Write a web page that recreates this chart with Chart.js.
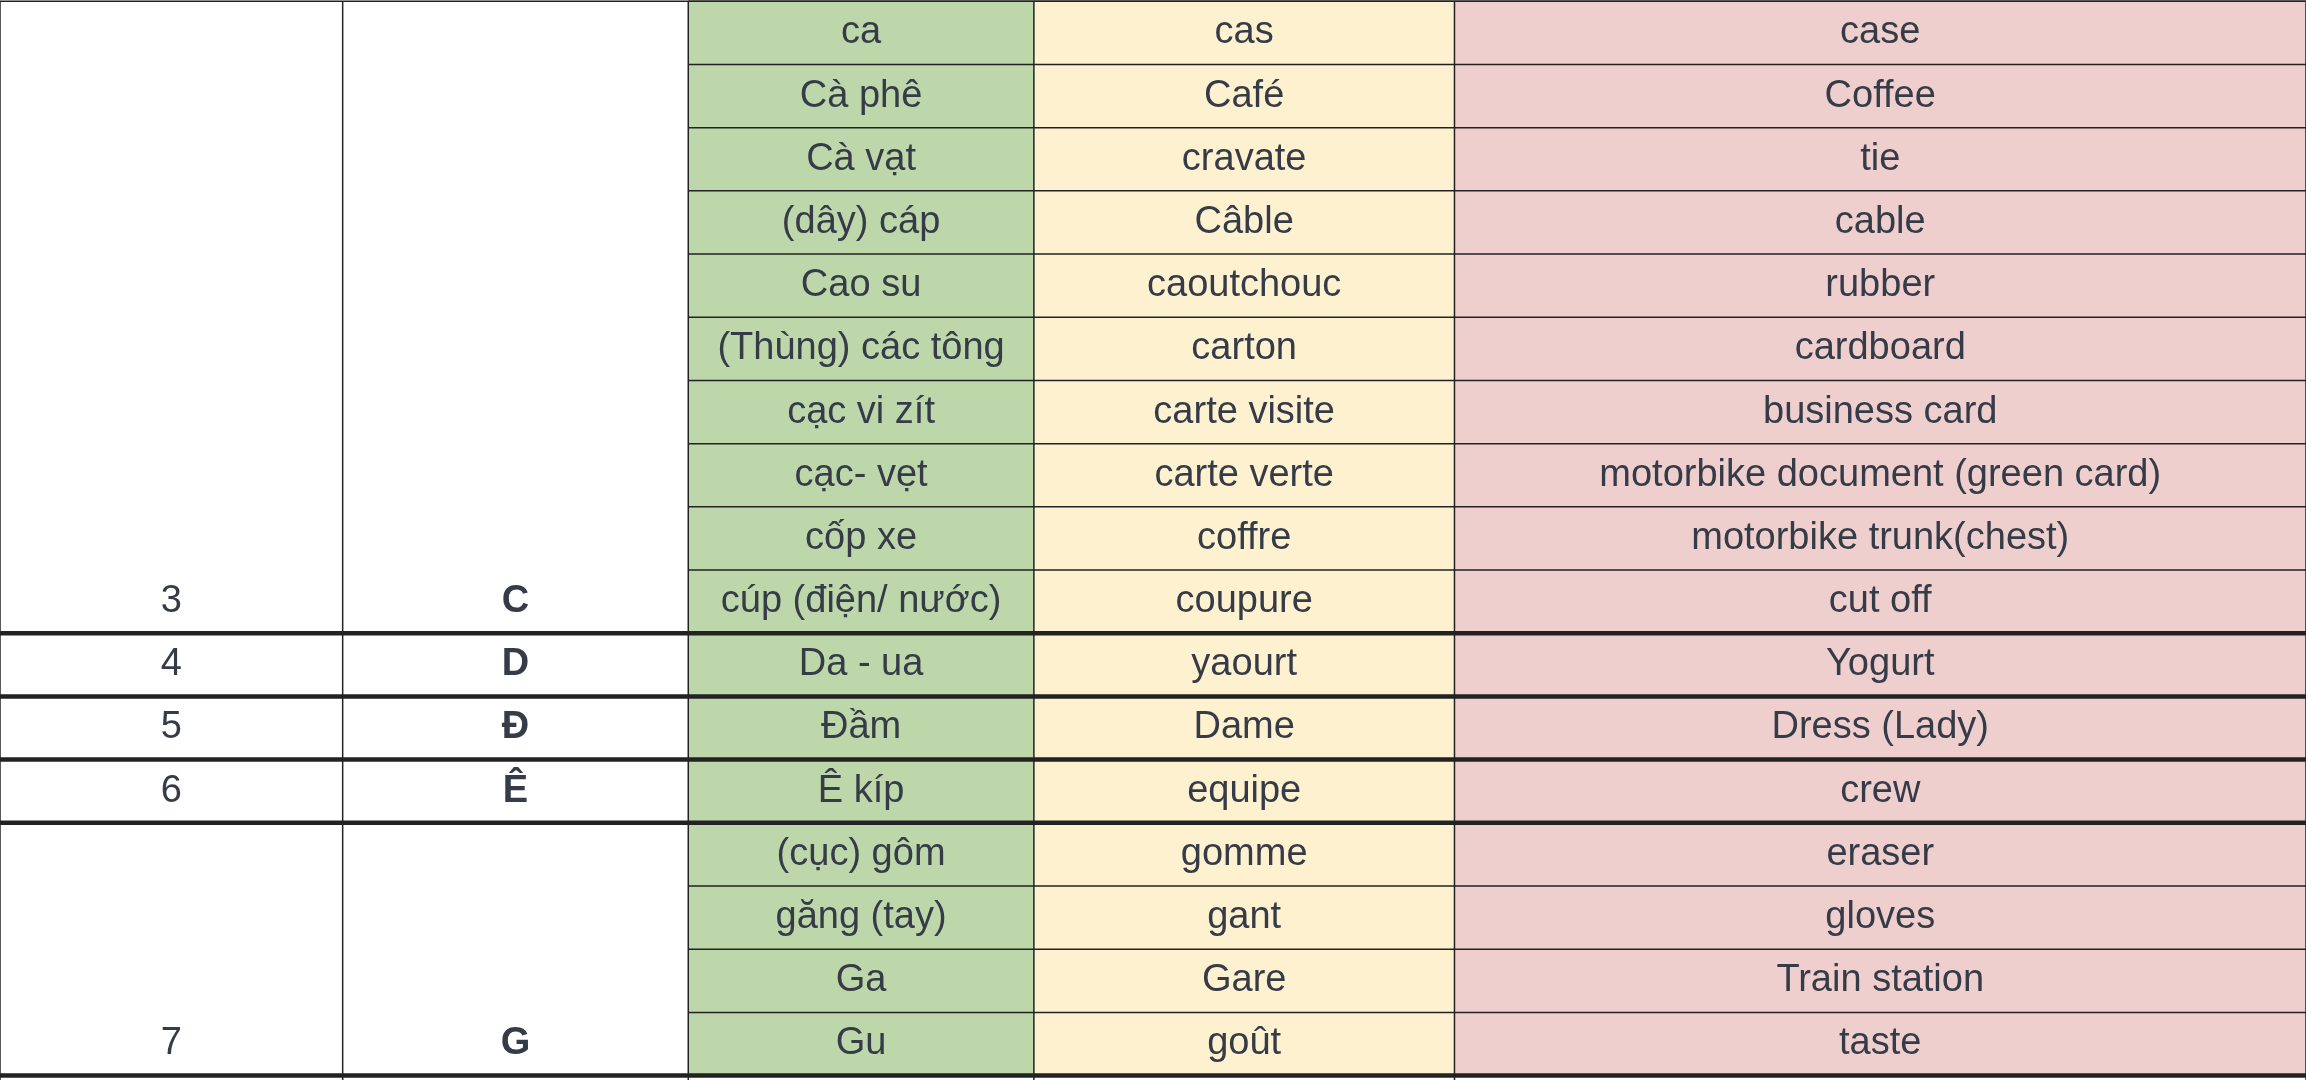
<!DOCTYPE html>
<html>
<head>
<meta charset="utf-8">
<script src="https://cdn.jsdelivr.net/npm/chart.js@4"></script>
<style>
  html, body { margin:0; padding:0; background:#fff; }
  #wrap { width:2306px; height:1080px; }
</style>
</head>
<body>
<div id="wrap"><canvas id="myChart"></canvas></div>
<script>
// table data
var vietnamese = ['ca','Cà phê','Cà vạt','(dây) cáp','Cao su','(Thùng) các tông','cạc vi zít','cạc- vẹt','cốp xe','cúp (điện/ nước)',
  'Da - ua','Đầm','Ê kíp','(cục) gôm','găng (tay)','Ga','Gu'];
var french = ['cas','Café','cravate','Câble','caoutchouc','carton','carte visite','carte verte','coffre','coupure',
  'yaourt','Dame','equipe','gomme','gant','Gare','goût'];
var english = ['case','Coffee','tie','cable','rubber','cardboard','business card','motorbike document (green card)','motorbike trunk(chest)','cut off',
  'Yogurt','Dress (Lady)','crew','eraser','gloves','Train station','taste'];
var groupNums = ['3','4','5','6','7'];
var groupLetters = ['C','D','Đ','Ê','G'];
var groupEnds = [9, 10, 11, 12, 16]; // last row index of each group

// column edges in x units (reference width 1568)
var colEdges = [0, 233, 468, 703, 989, 1568];
var colFills = [null, null, '#bdd7ab', '#fdf1cf', '#efcfce'];

var cells = [];
vietnamese.forEach(function(v, i){
  cells.push({x: 585, y: i + 0.5});
});

var tablePlugin = {
  id: 'table',
  afterDraw: function(chart){
    var c = chart.ctx, xs = chart.scales.x, ys = chart.scales.y;
    var px = function(v){ return xs.getPixelForValue(v); };
    var py = function(v){ return ys.getPixelForValue(v); };
    c.save();
    // backgrounds
    for (var k = 2; k < 5; k++) {
      c.fillStyle = colFills[k];
      c.fillRect(px(colEdges[k]), py(0), px(colEdges[k+1]) - px(colEdges[k]), py(17) - py(0));
    }
    // thin grid
    c.strokeStyle = '#222'; c.lineWidth = 1.5;
    for (var r = 0; r <= 17; r++) {
      c.beginPath(); c.moveTo(px(colEdges[2]), py(r)); c.lineTo(px(1568), py(r)); c.stroke();
    }
    colEdges.forEach(function(e){
      c.beginPath(); c.moveTo(px(e), py(0)); c.lineTo(px(e), py(17.1)); c.stroke();
    });
    c.beginPath(); c.moveTo(px(0), py(0)); c.lineTo(px(1568), py(0)); c.stroke();
    // thick group separators
    c.lineWidth = 4.5;
    groupEnds.forEach(function(g){
      c.beginPath(); c.moveTo(px(0), py(g+1)); c.lineTo(px(1568), py(g+1)); c.stroke();
    });
    // text
    c.fillStyle = '#353c47';
    c.textAlign = 'center'; c.textBaseline = 'middle';
    c.font = '38px "Liberation Sans", Arial, sans-serif';
    var cx = function(k){ return (px(colEdges[k]) + px(colEdges[k+1])) / 2; };
    for (var i = 0; i < vietnamese.length; i++) {
      var y = py(i + 0.5);
      c.fillText(vietnamese[i], cx(2), y);
      c.fillText(french[i], cx(3), y);
      c.fillText(english[i], cx(4), y);
    }
    groupEnds.forEach(function(g, j){
      var y = py(g + 0.5);
      c.font = '38px "Liberation Sans", Arial, sans-serif';
      c.fillText(groupNums[j], cx(0), y);
      c.font = 'bold 38px "Liberation Sans", Arial, sans-serif';
      c.fillText(groupLetters[j], cx(1), y);
    });
    c.restore();
  }
};

var ctx = document.getElementById('myChart').getContext('2d');
var chart = new Chart(ctx, {
  type: 'scatter',
  data: { datasets: [{ data: cells, pointRadius: 0 }] },
  options: {
    responsive: true,
    maintainAspectRatio: false,
    animation: false,
    layout: { padding: 0 },
    plugins: { legend: { display: false }, tooltip: { enabled: false } },
    scales: {
      x: { type: 'linear', min: 0, max: 1568, display: false },
      y: { type: 'linear', min: -0.02, max: 17.07, reverse: true, display: false }
    }
  },
  plugins: [tablePlugin]
});
</script>
</body>
</html>
